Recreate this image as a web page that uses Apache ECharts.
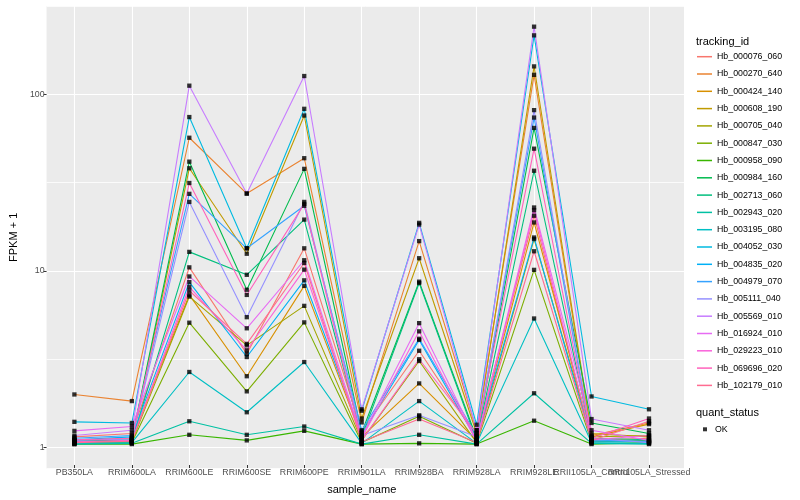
<!DOCTYPE html>
<html><head><meta charset="utf-8">
<script src="https://cdn.jsdelivr.net/npm/echarts@6/dist/echarts.min.js"></script>
<style>html,body{margin:0;padding:0;background:#fff}#c{width:800px;height:500px}</style>
</head><body><div id="c"></div>
<script>
// ---- data ----
const categories = ['PB350LA','RRIM600LA','RRIM600LE','RRIM600SE','RRIM600PE','RRIM901LA','RRIM928BA','RRIM928LA','RRIM928LE','RRII105LA_Control','RRII105LA_Stressed'];
const yTickValues = [1, 10, 100];
const Hb_000076_060 = [1.10, 1.15, 10.2, 3.28, 13.1, 1.18, 3.41, 1.10, 20.1, 1.05, 1.08];
const Hb_000270_640 = [1.92, 1.76, 56, 26.9, 42.8, 1.33, 14.4, 1.20, 128, 1.12, 1.32];
const Hb_000424_140 = [1.05, 1.08, 7.1, 2.44, 8.0, 1.10, 2.22, 1.05, 18.4, 1.10, 1.30];
const Hb_000608_190 = [1.03, 1.05, 37.5, 12.2, 75, 1.40, 11.5, 1.15, 143, 1.15, 1.10];
const Hb_000705_040 = [1.02, 1.03, 6.95, 3.66, 6.15, 1.05, 2.98, 1.02, 14.8, 1.10, 1.12];
const Hb_000847_030 = [1.01, 1.02, 4.93, 2.0, 4.95, 1.02, 1.44, 1.01, 9.87, 1.03, 1.05];
const Hb_000958_090 = [1.0, 1.0, 1.13, 1.05, 1.19, 1.0, 1.01, 1.0, 1.36, 1.0, 1.02];
const Hb_000984_160 = [1.04, 1.06, 40.9, 7.6, 37.2, 1.16, 8.45, 1.08, 63.7, 1.32, 1.15];
const Hb_002713_060 = [1.02, 1.04, 12.5, 9.25, 19.1, 1.10, 8.3, 1.05, 36.3, 1.08, 1.06];
const Hb_002943_020 = [1.0, 1.01, 1.35, 1.13, 1.26, 1.0, 1.13, 1.0, 1.95, 1.01, 1.0];
const Hb_003195_080 = [1.01, 1.02, 2.58, 1.52, 2.94, 1.01, 1.76, 1.01, 5.21, 1.02, 1.01];
const Hb_004052_030 = [1.34, 1.32, 73.5, 13.1, 81.9, 1.55, 18.3, 1.29, 215, 1.87, 1.58];
const Hb_004835_020 = [1.06, 1.10, 8.4, 3.14, 8.6, 1.13, 3.93, 1.06, 15.1, 1.04, 1.04];
const Hb_004979_070 = [1.08, 1.12, 26.8, 13.1, 22.9, 1.20, 3.99, 1.12, 73, 1.06, 1.03];
const Hb_005111_040 = [1.05, 1.07, 24.1, 5.3, 24.1, 1.12, 1.46, 1.10, 80.5, 1.08, 1.02];
const Hb_005569_010 = [1.12, 1.20, 111, 26.9, 126, 1.58, 17.9, 1.20, 241, 1.39, 1.20];
const Hb_016924_010 = [1.19, 1.26, 9.05, 4.58, 11.2, 1.10, 4.9, 1.05, 22.4, 1.20, 1.05];
const Hb_029223_010 = [1.03, 1.05, 7.9, 3.43, 9.9, 1.08, 4.4, 1.03, 21.6, 1.06, 1.12];
const Hb_069696_020 = [1.06, 1.08, 30.9, 7.1, 23.5, 1.05, 3.05, 1.15, 48.5, 1.08, 1.40];
const Hb_102179_010 = [1.02, 1.04, 7.5, 3.73, 10.8, 1.03, 1.39, 1.02, 12.6, 1.05, 1.35];

const trackingIds = ['Hb_000076_060','Hb_000270_640','Hb_000424_140','Hb_000608_190','Hb_000705_040','Hb_000847_030','Hb_000958_090','Hb_000984_160','Hb_002713_060','Hb_002943_020','Hb_003195_080','Hb_004052_030','Hb_004835_020','Hb_004979_070','Hb_005111_040','Hb_005569_010','Hb_016924_010','Hb_029223_010','Hb_069696_020','Hb_102179_010'];
const seriesValues = [Hb_000076_060,Hb_000270_640,Hb_000424_140,Hb_000608_190,Hb_000705_040,Hb_000847_030,Hb_000958_090,Hb_000984_160,Hb_002713_060,Hb_002943_020,Hb_003195_080,Hb_004052_030,Hb_004835_020,Hb_004979_070,Hb_005111_040,Hb_005569_010,Hb_016924_010,Hb_029223_010,Hb_069696_020,Hb_102179_010];
const statusName = 'OK';

// ---- style ----
const palette = ['#F8766D','#EA8331','#D89000','#C09B00','#A3A500','#7CAE00','#39B600','#00BB4E','#00BF7D','#00C1A3','#00BFC4','#00BAE0','#00B0F6','#35A2FF','#9590FF','#C77CFF','#E76BF3','#FA62DB','#FF62BC','#FF6C91'];
const FONT = '"Liberation Sans", Arial, sans-serif';
const yMin = 0.76, yMax = 316.2;
const gTop = 6, gBottom = 31.3;

const lineSeries = trackingIds.map((name, i) => ({
  name, type: 'line', xAxisIndex: 1, yAxisIndex: 2,
  data: seriesValues[i], showSymbol: false, symbol: 'none',
  color: palette[i], lineStyle: { width: 1.1, color: palette[i] },
  emphasis: { disabled: true }, silent: true, z: 2
}));
const pointData = [];
seriesValues.forEach(arr => arr.forEach((v, j) => pointData.push([j, v])));

const chart = echarts.init(document.getElementById('c'), null, { renderer: 'canvas' });
chart.setOption({
  animation: false,
  backgroundColor: '#fff',
  textStyle: { fontFamily: FONT },
  title: [
    { text: 'tracking_id', left: 696, top: 36.5, padding: 0, textStyle: { fontSize: 11, fontWeight: 'normal', color: '#000', fontFamily: FONT } },
    { text: 'quant_status', left: 696, top: 407.5, padding: 0, textStyle: { fontSize: 11, fontWeight: 'normal', color: '#000', fontFamily: FONT } }
  ],
  grid: [
    { left: 40, right: 116, top: gTop, bottom: gBottom, show: true, backgroundColor: '#EBEBEB', borderWidth: 0 },
    { left: 74.4, right: 151, top: gTop, bottom: gBottom }
  ],
  xAxis: [
    { gridIndex: 0, type: 'value', min: 0, max: 1, show: false },
    { gridIndex: 1, type: 'category', data: categories, boundaryGap: false,
      axisLine: { show: false },
      axisTick: { show: true, length: 3, lineStyle: { color: '#333', width: 1 } },
      axisLabel: { interval: 0, margin: 3, fontSize: 8.8, color: '#4D4D4D', fontFamily: FONT },
      splitLine: { show: true, lineStyle: { color: '#fff', width: 1.1 } },
      name: 'sample_name', nameLocation: 'middle', nameGap: 19,
      nameTextStyle: { fontSize: 11, color: '#000', fontFamily: FONT } }
  ],
  yAxis: [
    { gridIndex: 0, type: 'log', logBase: 10, min: yMin, max: yMax,
      axisLine: { show: false },
      axisTick: { show: true, length: 3, lineStyle: { color: '#333', width: 1 }, customValues: yTickValues },
      axisLabel: { margin: 2, fontSize: 8.8, color: '#4D4D4D', fontFamily: FONT, customValues: yTickValues,
        formatter: v => (yTickValues.some(t => Math.abs(t - v) < 1e-6 * t) ? String(Math.round(v)) : '') },
      splitLine: { show: true, lineStyle: { color: '#fff', width: 1.1 } },
      name: 'FPKM + 1', nameLocation: 'middle', nameGap: 24,
      nameTextStyle: { fontSize: 11, color: '#000', fontFamily: FONT } },
    { gridIndex: 0, type: 'value', min: Math.log10(yMin), max: Math.log10(yMax),
      axisLine: { show: false }, axisTick: { show: false }, axisLabel: { show: false },
      splitLine: { show: true, lineStyle: { color: '#fff', width: 0.8 } } },
    { gridIndex: 1, type: 'log', logBase: 10, min: yMin, max: yMax, show: false,
      splitLine: { show: false } }
  ],
  legend: [
    { data: trackingIds, orient: 'vertical', left: 697, top: 50.7, padding: 0, itemWidth: 15, itemHeight: 1.5,
      itemGap: 5.3, icon: 'rect', selectedMode: false,
      textStyle: { fontSize: 8.8, lineHeight: 12, color: '#000', fontFamily: FONT } },
    { data: [{ name: statusName, icon: 'rect' }], orient: 'vertical', left: 703, top: 423.3, padding: 0,
      itemWidth: 4, itemHeight: 4, selectedMode: false,
      textStyle: { fontSize: 8.8, lineHeight: 12, color: '#000', fontFamily: FONT, padding: [0, 0, 0, 3] } }
  ],
  series: lineSeries.concat([{
    name: statusName, type: 'scatter', xAxisIndex: 1, yAxisIndex: 2,
    data: pointData, symbol: 'rect', symbolSize: 4.3, color: '#000',
    itemStyle: { color: '#000' }, silent: true, emphasis: { disabled: true }, z: 5
  }])
});
</script></body></html>
